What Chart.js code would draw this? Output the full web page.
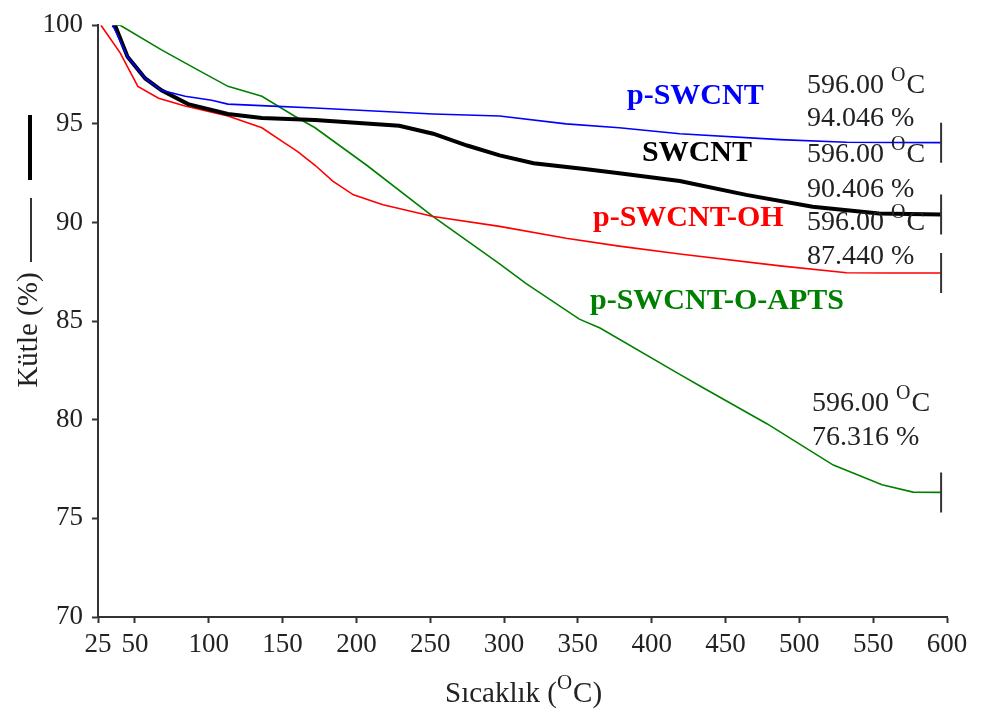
<!DOCTYPE html>
<html>
<head>
<meta charset="utf-8">
<script src="https://cdn.jsdelivr.net/npm/chart.js@4.4.1/dist/chart.umd.min.js"></script>
<style>
  html, body { margin: 0; padding: 0; background: #fff; }
  #wrap { width: 982px; height: 718px; }
</style>
</head>
<body>
<div id="wrap"><canvas id="tga-chart" width="982" height="718"></canvas></div>
<script>
// tick labels
const xTicks = [25, 50, 100, 150, 200, 250, 300, 350, 400, 450, 500, 550, 600];
const yTicks = [70, 75, 80, 85, 90, 95, 100];

// series names + end point readouts
const seriesNames = ['p-SWCNT', 'SWCNT', 'p-SWCNT-OH', 'p-SWCNT-O-APTS'];
const endTemps = ['596.00', '596.00', '596.00', '596.00'];
const endMasses = ['94.046', '90.406', '87.440', '76.316'];

// p-SWCNT
const tempBlue = [35, 45, 57, 68, 84, 102, 113, 143, 172, 252, 297, 342, 378, 419, 487, 532, 596];
const massBlue = [100, 98.4, 97.3, 96.7, 96.4, 96.2, 96.0, 95.9, 95.8, 95.5, 95.4, 95.0, 94.8, 94.5, 94.2, 94.07, 94.046];

// SWCNT
const tempBlack = [35, 37, 45, 57, 68, 86, 113, 136, 172, 229, 252, 275, 297, 320, 356, 378, 419, 464, 509, 554, 596];
const massBlack = [100, 99.9, 98.4, 97.3, 96.7, 96.0, 95.5, 95.3, 95.2, 94.9, 94.5, 93.9, 93.4, 93.0, 92.7, 92.5, 92.1, 91.4, 90.8, 90.45, 90.406];

// p-SWCNT-OH
const tempRed = [27, 40, 52, 66, 84, 113, 136, 150, 160, 172, 184, 198, 218, 252, 297, 342, 378, 419, 487, 532, 560, 596];
const massRed = [100, 98.6, 96.9, 96.3, 95.9, 95.4, 94.8, 94.1, 93.6, 92.9, 92.1, 91.4, 90.9, 90.3, 89.8, 89.2, 88.8, 88.4, 87.8, 87.45, 87.44, 87.44];

// p-SWCNT-O-APTS
const tempGreen = [37, 40, 68, 91, 113, 136, 158, 172, 207, 252, 297, 315, 351, 365, 419, 433, 478, 523, 556, 577, 596];
const massGreen = [100, 100, 98.75, 97.8, 96.9, 96.4, 95.4, 94.8, 92.9, 90.3, 87.9, 86.9, 85.1, 84.65, 82.3, 81.7, 79.8, 77.7, 76.7, 76.33, 76.316];

const SERIF = '"Liberation Serif", "Times New Roman", serif';
const TEXT = '#222';

function toPoints(xs, ys){
    return xs.map(function(x, i){ return {x: x, y: ys[i]}; });
}

function makeSet(label, xs, ys, color, width){
    const last = xs.length - 1;
    return {
        label: label,
        data: toPoints(xs, ys),
        borderColor: color,
        borderWidth: width,
        tension: 0,
        fill: false,
        pointStyle: 'line',
        rotation: 90,
        pointBorderColor: '#333',
        pointBorderWidth: 2,
        pointRadius: function(ctx){ return ctx.dataIndex === last ? 20 : 0; },
        pointHoverRadius: 0
    };
}

// draws "before" + raised small "sup" + "after"
function drawSup(ctx, x, y, before, sup, after, size){
    ctx.font = size + 'px ' + SERIF;
    ctx.fillText(before, x, y);
    let w = ctx.measureText(before).width;
    ctx.font = Math.round(size * 0.72) + 'px ' + SERIF;
    ctx.fillText(sup, x + w, y - size * 0.36);
    w += ctx.measureText(sup).width + 1;
    ctx.font = size + 'px ' + SERIF;
    ctx.fillText(after, x + w, y);
}

const textPlugin = {
    id: 'tgaText',
    afterDraw: function(chart){
        const ctx = chart.ctx;
        ctx.save();
        ctx.textBaseline = 'middle';
        ctx.textAlign = 'left';

        // series labels
        const labelPos = [[627, 96, '#0000ff'], [642, 153, '#000000'], [593, 218, '#ff0000'], [590, 301, '#008000']];
        ctx.font = 'bold 30px ' + SERIF;
        seriesNames.forEach(function(name, i){
            ctx.fillStyle = labelPos[i][2];
            ctx.fillText(name, labelPos[i][0], labelPos[i][1]);
        });

        // end readouts
        const readPos = [[807, 86, 119], [807, 155, 190], [807, 223, 257], [812, 404, 438]];
        ctx.fillStyle = TEXT;
        endTemps.forEach(function(t, i){
            const p = readPos[i];
            drawSup(ctx, p[0], p[1], t + ' ', 'O', 'C', 28);
            ctx.font = '28px ' + SERIF;
            ctx.fillText(endMasses[i] + ' %', p[0], p[2]);
        });

        // x title
        drawSup(ctx, 445, 694, 'Sıcaklık (', 'O', 'C)', 29);

        // y title with line marks
        ctx.save();
        ctx.translate(29, 330);
        ctx.rotate(-Math.PI / 2);
        ctx.textAlign = 'center';
        ctx.font = '29px ' + SERIF;
        ctx.fillText('Kütle (%)', 0, 0);
        ctx.restore();

        ctx.strokeStyle = '#333';
        ctx.lineWidth = 2;
        ctx.beginPath();
        ctx.moveTo(31, 198);
        ctx.lineTo(31, 262);
        ctx.stroke();
        ctx.strokeStyle = '#000';
        ctx.lineWidth = 4;
        ctx.beginPath();
        ctx.moveTo(30, 115);
        ctx.lineTo(30, 180);
        ctx.stroke();

        ctx.restore();
    }
};

const datasets = [
    makeSet(seriesNames[0], tempBlue, massBlue, '#0000ff', 1.6),
    makeSet(seriesNames[1], tempBlack, massBlack, '#000000', 4),
    makeSet(seriesNames[2], tempRed, massRed, '#ff0000', 1.6),
    makeSet(seriesNames[3], tempGreen, massGreen, '#008000', 1.6)
];

const options = {
    animation: false,
    responsive: false,
    layout: { padding: { left: 0, right: 35, top: 15, bottom: 0 } },
    plugins: {
        legend: { display: false },
        tooltip: { enabled: false }
    },
    scales: {
        x: {
            type: 'linear',
            min: 25,
            max: 600,
            afterBuildTicks: function(axis){ axis.ticks = xTicks.map(function(v){ return {value: v}; }); },
            afterFit: function(scale){ scale.height = 101; },
            grid: { drawOnChartArea: false, drawTicks: true, tickLength: 6, tickColor: '#333', tickWidth: 2 },
            border: { color: '#333', width: 2 },
            ticks: {
                autoSkip: false,
                maxRotation: 0,
                padding: 6,
                color: TEXT,
                font: { family: SERIF, size: 27 }
            }
        },
        y: {
            min: 70,
            max: 100,
            afterBuildTicks: function(axis){ axis.ticks = yTicks.map(function(v){ return {value: v}; }); },
            afterFit: function(scale){ scale.width = 98; },
            grid: { drawOnChartArea: false, drawTicks: true, tickLength: 6, tickColor: '#333', tickWidth: 2 },
            border: { color: '#333', width: 2 },
            ticks: {
                padding: 9,
                color: TEXT,
                font: { family: SERIF, size: 27 }
            }
        }
    }
};

let chartEl = document.getElementById('tga-chart').getContext('2d');
let tgaChart = new Chart(chartEl, {
    type: 'line',
    data: { datasets: datasets },
    options: options,
    plugins: [textPlugin]
});
</script>
</body>
</html>
